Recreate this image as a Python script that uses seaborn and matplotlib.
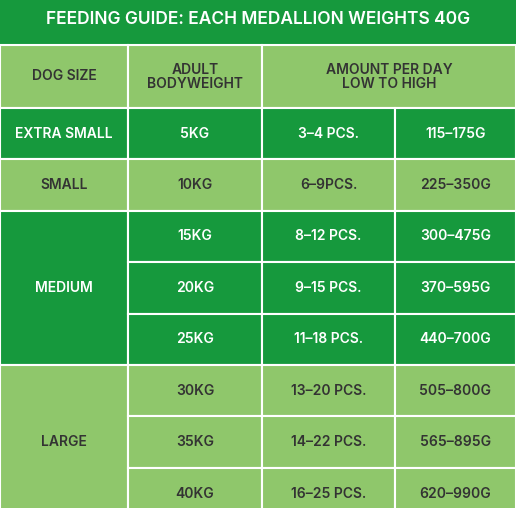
import matplotlib
matplotlib.use("Agg")
import matplotlib.pyplot as plt
from matplotlib.patches import Rectangle
import seaborn as sns

sns.set_style("white")
plt.rcParams['font.family'] = ['Inter', 'DejaVu Sans']

title = "FEEDING GUIDE: EACH MEDALLION WEIGHTS 40G"
headers = ["DOG SIZE", "ADULT\nBODYWEIGHT", "AMOUNT PER DAY\nLOW TO HIGH"]
sizes = ["EXTRA SMALL", "SMALL", "MEDIUM", "LARGE"]
size_rows = [1, 1, 3, 3]
weights = ["5KG", "10KG", "15KG", "20KG", "25KG", "30KG", "35KG", "40KG"]
pieces = ["3-4 PCS.", "6-9PCS.", "8-12 PCS.", "9-15 PCS.", "11-18 PCS.",
          "13-20 PCS.", "14-22 PCS.", "16-25 PCS."]
grams = ["115-175G", "225-350G", "300-475G", "370-595G", "440-700G",
         "505-800G", "565-895G", "620-990G"]

dark = "#16993d"
light = "#8fc76b"
col_x = [0, 128, 262, 395, 516]
title_h, head_top, head_bot, row_h = 45, 45, 108, 51.4

fig = plt.figure(figsize=(5.16, 5.08), dpi=100)
ax = fig.add_axes([0, 0, 1, 1])
ax.set_xlim(0, 516)
ax.set_ylim(508, 0)
ax.axis("off")

def cell(x0, x1, y0, y1, color, text, txtcolor, size=10):
    ax.add_patch(Rectangle((x0, y0), x1 - x0, y1 - y0, facecolor=color,
                           edgecolor="white", linewidth=1.5))
    ax.text((x0 + x1) / 2, (y0 + y1) / 2, text, ha="center", va="center",
            color=txtcolor, fontsize=size, fontweight="semibold", linespacing=1.0)

ax.add_patch(Rectangle((0, 0), 516, title_h, facecolor=dark, edgecolor="none"))
ax.text(258, 20, title, ha="center", va="center", color="white",
        fontsize=12.5, fontweight="semibold")

cell(col_x[0], col_x[1], head_top, head_bot, light, headers[0], "#333333")
cell(col_x[1], col_x[2], head_top, head_bot, light, headers[1], "#333333")
cell(col_x[2], col_x[4], head_top, head_bot, light, headers[2], "#333333")

r = 0
for i, (name, n) in enumerate(zip(sizes, size_rows)):
    color = dark if i % 2 == 0 else light
    tc = "white" if i % 2 == 0 else "#333333"
    y0 = head_bot + r * row_h
    y1 = y0 + n * row_h
    cell(col_x[0], col_x[1], y0, y1, color, name, tc)
    for k in range(n):
        ya = y0 + k * row_h
        yb = ya + row_h
        cell(col_x[1], col_x[2], ya, yb, color, weights[r + k], tc)
        cell(col_x[2], col_x[3], ya, yb, color, pieces[r + k].replace("-", "–"), tc)
        cell(col_x[3], col_x[4], ya, yb, color, grams[r + k].replace("-", "–"), tc)
    r += n

fig.savefig("out.png", dpi=100)
